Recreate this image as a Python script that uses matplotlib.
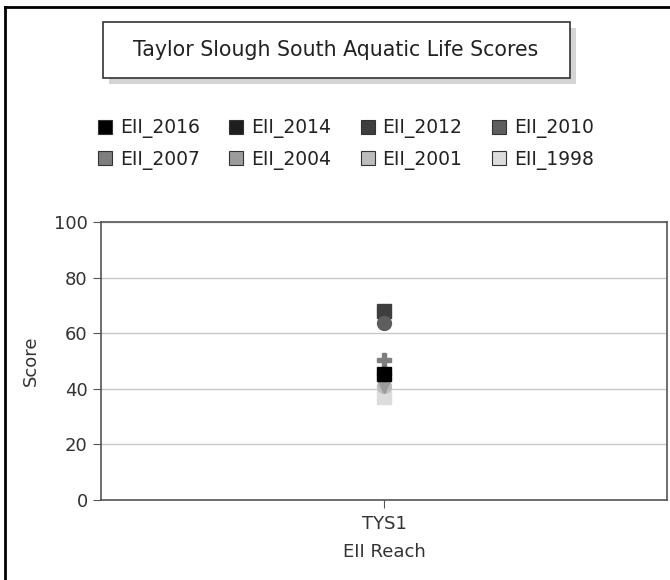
import matplotlib.pyplot as plt
from matplotlib.patches import Rectangle
from matplotlib.lines import Line2D

# data
sites = ["TYS1"]
series = ["EII_2016", "EII_2014", "EII_2012", "EII_2010",
          "EII_2007", "EII_2004", "EII_2001", "EII_1998"]
scores = [45.2, 45.2, 68.0, 63.8, 50.5, 41.0, 41.0, 37.0]
colors = ["#000000", "#1e1e1e", "#3e3e3e", "#5e5e5e",
          "#7e7e7e", "#9c9c9c", "#bcbcbc", "#dcdcdc"]
markers = ["s", "o", "s", "o", "P", "v", "o", "s"]
layers = [10, 9, 5, 6, 8, 4, 3, 2]

W, H = 670, 580
fig = plt.figure(figsize=(W / 100, H / 100), dpi=100)
plt.rcParams['font.family'] = ['DejaVu Sans']
txt = "#222222"

def fx(px):
    return px / W

def fy(py):
    return 1 - py / H

# outer border (top and left visible only)
fig.add_artist(Line2D([fx(5), 1], [fy(7), fy(7)], color="black", lw=2))
fig.add_artist(Line2D([fx(5), fx(5)], [fy(7), 0], color="black", lw=2))

# title box with shadow
fig.add_artist(Rectangle((fx(109), fy(84)), fx(570 - 103), (78 - 22) / H,
                         facecolor="#d4d4d4", edgecolor="none"))
fig.add_artist(Rectangle((fx(103), fy(78)), fx(570 - 103), (78 - 22) / H,
                         facecolor="white", edgecolor="#333333", lw=1.2))
fig.text(fx(336), fy(50), "Taylor Slough South Aquatic Life Scores",
         ha="center", va="center", fontsize=14.8, color=txt)

# plot area
ax = fig.add_axes([fx(101), fy(500), fx(667 - 101), (500 - 222) / H])
for i, name in enumerate(series):
    ax.plot([0], [scores[i]], linestyle="none", marker=markers[i], ms=10,
            color=colors[i], mec=colors[i], zorder=layers[i] + 3)

ax.set_xlim(-1, 1)
ax.set_ylim(0, 100)
ax.set_xticks([0])
ax.set_xticklabels(sites)
ax.set_yticks([0, 20, 40, 60, 80, 100])
ax.yaxis.grid(True, color="#c8c8c8", lw=1)
ax.set_axisbelow(True)
ax.tick_params(axis="both", direction="out", length=6, color="#555555",
               labelsize=13, labelcolor="#333333")
ax.tick_params(axis="x", pad=5)
for sp in ax.spines.values():
    sp.set_color("#555555")
    sp.set_linewidth(1.2)
ax.set_xlabel("EII Reach", fontsize=13, color="#333333", labelpad=7)
ax.set_ylabel("Score", fontsize=13, color="#333333", labelpad=10)

# legend, filled row by row like the reference
order = [0, 4, 1, 5, 2, 6, 3, 7]
handles = [Line2D([], [], linestyle="none", marker="s", ms=10,
                  color=c, mec="#333333", mew=0.8) for c in colors]
fig.legend([handles[k] for k in order], [series[k] for k in order],
           loc="center", bbox_to_anchor=(fx(346), fy(144)),
           ncol=4, frameon=False, fontsize=13.5, handlelength=0.7,
           handletextpad=0.45, columnspacing=1.6, labelspacing=0.62,
           labelcolor=txt, borderpad=0)

plt.savefig("out.png", dpi=100, facecolor="white")
plt.close()
